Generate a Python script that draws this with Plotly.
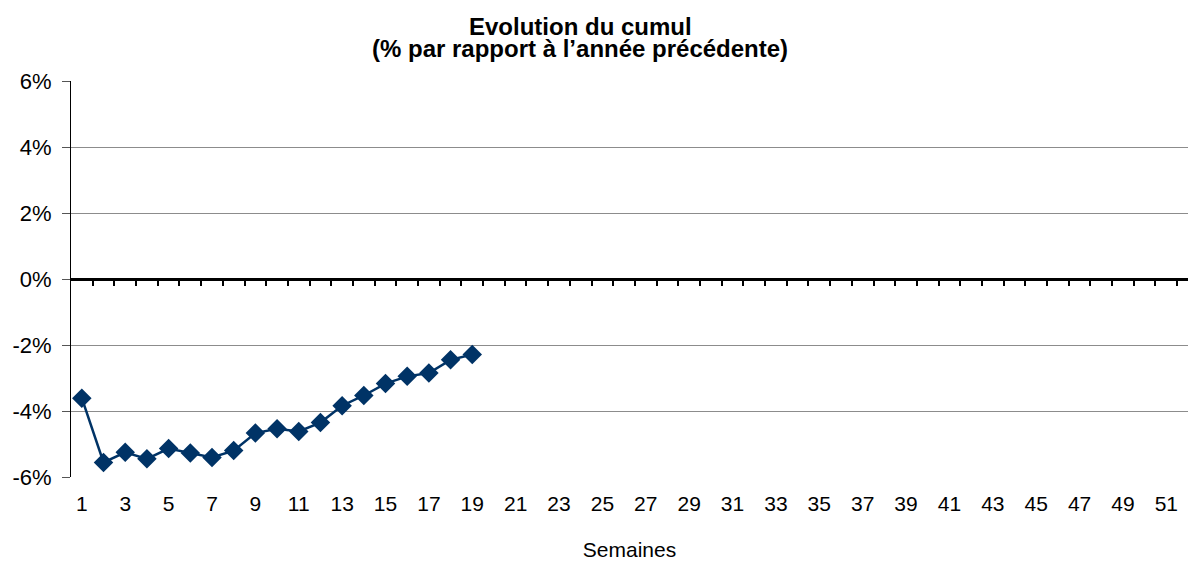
import plotly.graph_objects as go

weeks = [1, 2, 3, 4, 5, 6, 7, 8, 9, 10, 11, 12, 13, 14, 15, 16, 17, 18, 19]
cumul_pct = [-3.61, -5.56, -5.25, -5.45, -5.14, -5.27, -5.41, -5.20, -4.67, -4.54,
             -4.62, -4.35, -3.84, -3.53, -3.17, -2.95, -2.85, -2.45, -2.29]
x_tick_vals = list(range(1, 53, 2))
x_tick_text = [str(v) for v in x_tick_vals]
x_sep_vals = [k + 0.5 for k in range(1, 52)]
y_tick_vals = [-6, -4, -2, 0, 2, 4, 6]
y_tick_text = ["-6%", "-4%", "-2%", "0%", "2%", "4%", "6%"]
grid_vals = [-4, -2, 2, 4]

title_line1 = "Evolution du cumul"
title_line2 = "(% par rapport à l’année précédente)"
x_title = "Semaines"

NAVY = "#003366"
FONT = "Liberation Sans, Arial, sans-serif"

fig = go.Figure()
fig.add_trace(go.Scatter(
    x=weeks, y=cumul_pct, mode="lines+markers",
    line=dict(color=NAVY, width=2.5),
    marker=dict(symbol="diamond", size=15, color=NAVY),
    hoverinfo="x+y", showlegend=False,
))
# helper trace so the zero-crossing axis is drawn
fig.add_trace(go.Scatter(
    x=weeks, y=cumul_pct, xaxis="x2", mode="markers",
    marker=dict(opacity=0), hoverinfo="skip", showlegend=False,
))

fig.update_layout(
    width=1189, height=561,
    margin=dict(l=71, r=1, t=81, b=84),
    paper_bgcolor="white", plot_bgcolor="white",
    font=dict(family=FONT, size=21, color="black"),
    xaxis=dict(
        range=[0.5, 52.0], tickmode="array", tickvals=x_tick_vals, ticktext=x_tick_text,
        showgrid=False, zeroline=False, showline=False, ticks="",
        ticklabelstandoff=12,
        tickfont=dict(size=21),
        title=dict(text=x_title, font=dict(size=21), standoff=28),
    ),
    xaxis2=dict(
        overlaying="x", anchor="free", position=0.5, side="bottom",
        range=[0.5, 52.0], tickmode="array", tickvals=x_sep_vals,
        showticklabels=False, ticks="outside", ticklen=5, tickwidth=2, tickcolor="black",
        showline=True, linecolor="black", linewidth=3,
        showgrid=False, zeroline=False,
    ),
    yaxis=dict(
        range=[-6, 6], tickmode="array", tickvals=y_tick_vals, ticktext=y_tick_text,
        showgrid=False, zeroline=False,
        showline=True, linecolor="black", linewidth=1,
        ticks="outside", ticklen=8, tickwidth=1, tickcolor="#555555",
        ticklabelstandoff=6,
        tickfont=dict(size=22),
        minor=dict(tickmode="array", tickvals=grid_vals, showgrid=True,
                   gridcolor="#8c8c8c", gridwidth=1, ticks=""),
    ),
    annotations=[
        dict(text="<b>" + title_line1 + "</b>", xref="paper", yref="paper",
             x=(580 - 71) / 1117, y=1, yshift=81 - 26, xanchor="center", yanchor="middle",
             showarrow=False, font=dict(size=24, family=FONT)),
        dict(text="<b>" + title_line2 + "</b>", xref="paper", yref="paper",
             x=(580 - 71) / 1117, y=1, yshift=81 - 48, xanchor="center", yanchor="middle",
             showarrow=False, font=dict(size=24, family=FONT)),
    ],
)

fig.write_html(
    "out.html",
    config={"displayModeBar": False},
    post_script="document.body.style.margin='0';document.body.style.overflow='hidden';",
)
